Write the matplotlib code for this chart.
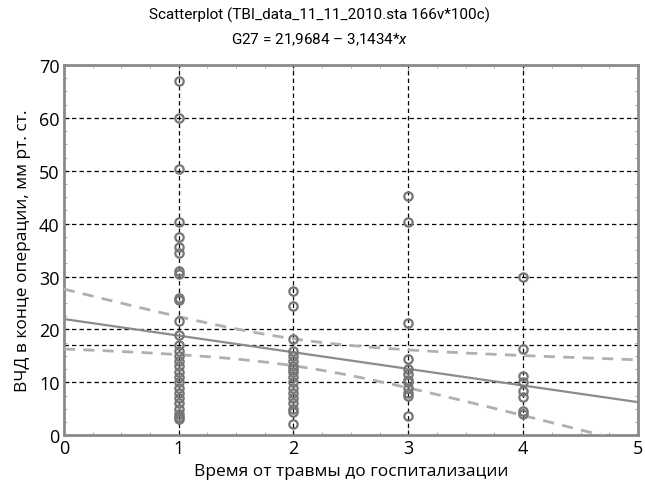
import numpy as np
import matplotlib.pyplot as plt
from matplotlib.ticker import MultipleLocator

plt.rcParams['font.family'] = ['Open Sans', 'DejaVu Sans']
plt.rcParams['mathtext.fontset'] = 'custom'
plt.rcParams['mathtext.it'] = 'Roboto:italic'
plt.rcParams['mathtext.rm'] = 'Roboto'

# time from injury to hospitalisation (groups) and ICP at end of surgery
x1 = [67, 60, 50.3, 40.3, 37.5, 35.5, 34.5, 31, 30.5, 26, 25.5, 21.5, 19, 17, 16,
      15, 14, 13, 12, 11, 10, 9, 8, 7, 6, 5, 4, 3.5, 3]
x2 = [27.3, 24.4, 18.2, 16, 15, 14, 13, 12.5, 12, 11, 10, 9, 8, 7, 6, 5, 4.3, 2.1]
x3 = [45.3, 40.3, 21.2, 14.5, 12.5, 11.5, 10.5, 10, 9, 8, 7.5, 3.7]
x4 = [30, 16.3, 11.2, 10, 8.4, 7.2, 4.6, 4.0]
groups = [1, 2, 3, 4]
values = [x1, x2, x3, x4]

# regression G27 = a + b*x and its 95% band parameters
a, b = 21.9684, -3.1434
band_c, band_a, band_b = 2.0, 6.5, 6.4
mean_line = 17.0

fig = plt.figure(figsize=(6.45, 4.89), dpi=100)
ax = fig.add_axes([0.099, 0.108, 0.890, 0.757])

for g, v in zip(groups, values):
    ax.plot([g] * len(v), v, 'o', ms=6, mfc='none', mec='#767676', mew=1.6,
            zorder=4)

xx = np.linspace(0, 5, 200)
yy = a + b * xx
w = np.sqrt(band_a + band_b * (xx - band_c) ** 2)
ax.plot(xx, yy, color='#8c8c8c', lw=1.6, zorder=3)
ax.plot(xx, yy + w, color='#b0b0b0', lw=2, dashes=(4, 3), zorder=3)
ax.plot(xx, yy - w, color='#b0b0b0', lw=2, dashes=(4, 3), zorder=3)

for g in groups:
    ax.axvline(g, color='black', lw=0.9, dashes=(3.5, 2.5), zorder=2)
for h in [10, 20, 30, 40, 50, 60, mean_line]:
    ax.axhline(h, color='black', lw=0.9, dashes=(3.5, 2.5), zorder=2)

ax.set_xlim(0, 5)
ax.set_ylim(0, 70)
ax.xaxis.set_major_locator(MultipleLocator(1))
ax.yaxis.set_major_locator(MultipleLocator(10))
ax.xaxis.set_minor_locator(MultipleLocator(0.25))
ax.yaxis.set_minor_locator(MultipleLocator(2.5))
ax.tick_params(which='both', direction='in', color='#9a9a9a', top=True, right=True)
ax.tick_params(which='major', length=4, labelsize=13, pad=3)
ax.tick_params(which='minor', length=2.5)
for s in ax.spines.values():
    s.set_color('#8a8a8a')
    s.set_linewidth(2)

ax.set_xlabel('Время от травмы до госпитализации', fontsize=12.5, labelpad=4)
ax.set_ylabel('ВЧД в конце операции, мм рт. ст.', fontsize=12.5, labelpad=6)
title_font = ['Roboto', 'Open Sans']
fig.text(0.495, 0.968, 'Scatterplot (TBI_data_11_11_2010.sta 166v*100c)',
         ha='center', va='center', fontsize=11, family=title_font)
fig.text(0.495, 0.918, 'G27 = 21,9684 – 3,1434*$x$', ha='center', va='center',
         fontsize=11, family=title_font)

plt.savefig('out.png')
